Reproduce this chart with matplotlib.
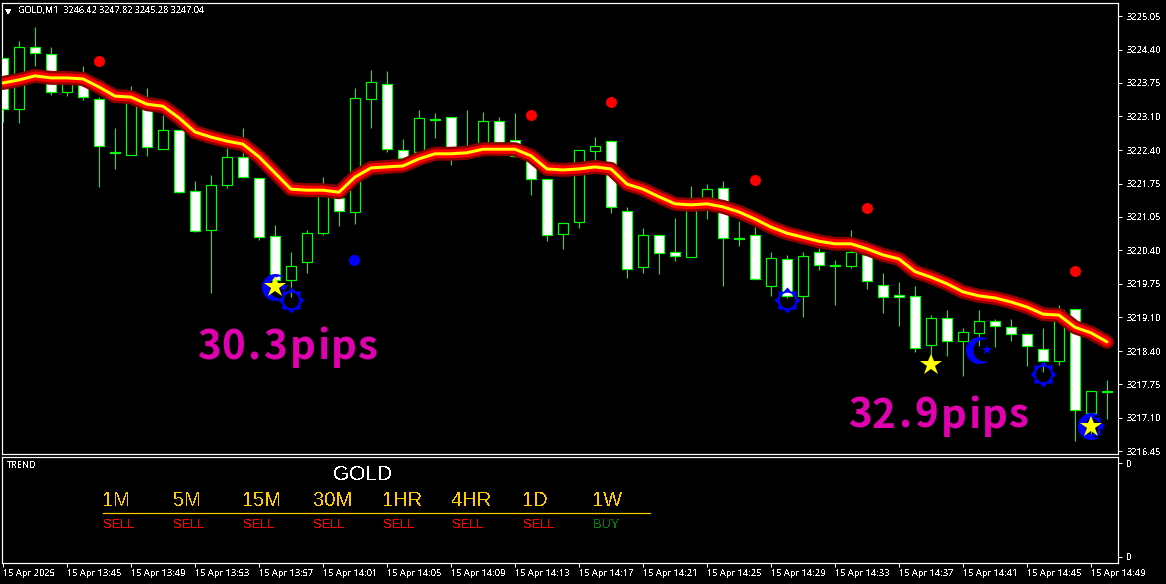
import numpy as np
import matplotlib
matplotlib.use('Agg')
import matplotlib.pyplot as plt
from matplotlib.path import Path

W, H = 1166, 584

# one row per minute bar, 13:41 to 14:50
opens = [3224.22, 3223.22, 3224.44, 3224.30, 3223.55, 3223.69, 3223.41, 3222.36, 3222.31, 3223.23,
	3222.42, 3222.80, 3221.59, 3220.82, 3221.71, 3222.27, 3221.85, 3220.70, 3219.83, 3220.19,
	3220.76, 3221.46, 3221.18, 3223.41, 3223.71, 3222.40, 3222.36, 3223.02, 3223.06, 3222.40,
	3222.50, 3222.98, 3222.60, 3222.31, 3221.83, 3220.74, 3220.98, 3222.38, 3222.58, 3221.20,
	3220.09, 3220.72, 3220.39, 3220.29, 3221.32, 3221.65, 3220.66, 3220.72, 3219.71, 3220.25,
	3219.52, 3220.39, 3220.13, 3220.11, 3220.33, 3219.74, 3219.54, 3219.52, 3218.55, 3219.08,
	3218.63, 3218.79, 3219.02, 3218.90, 3218.77, 3218.47, 3218.23, 3219.26, 3217.21, 3217.64]
highs = [3224.22, 3224.56, 3224.84, 3224.44, 3223.73, 3224.07, 3223.45, 3222.84, 3223.67, 3223.63,
	3223.10, 3222.80, 3221.79, 3221.91, 3222.44, 3222.84, 3221.85, 3220.92, 3220.39, 3220.82,
	3221.87, 3221.52, 3223.63, 3223.99, 3223.97, 3222.62, 3223.20, 3223.14, 3223.06, 3223.20,
	3223.16, 3223.06, 3223.14, 3222.40, 3221.83, 3220.96, 3222.40, 3222.66, 3222.60, 3221.28,
	3220.86, 3220.72, 3221.06, 3221.69, 3221.73, 3221.79, 3221.00, 3220.88, 3220.39, 3220.33,
	3220.39, 3220.47, 3220.23, 3220.82, 3220.43, 3219.97, 3219.79, 3219.71, 3219.14, 3219.24,
	3218.89, 3219.24, 3219.06, 3219.06, 3218.79, 3218.89, 3219.34, 3219.26, 3217.64, 3217.86]
lows = [3222.96, 3222.94, 3224.07, 3223.49, 3223.47, 3223.39, 3221.67, 3222.03, 3222.31, 3222.29,
	3222.42, 3221.55, 3220.78, 3219.58, 3221.65, 3221.85, 3220.62, 3219.77, 3219.50, 3219.97,
	3220.72, 3220.90, 3220.94, 3222.84, 3222.36, 3222.13, 3222.11, 3222.64, 3222.11, 3222.36,
	3222.44, 3222.48, 3222.27, 3221.52, 3220.60, 3220.45, 3220.86, 3222.11, 3221.16, 3219.87,
	3219.97, 3219.95, 3220.21, 3220.29, 3221.04, 3219.71, 3220.51, 3219.85, 3219.52, 3219.48,
	3219.10, 3220.03, 3219.34, 3220.07, 3219.66, 3219.18, 3218.92, 3218.41, 3218.15, 3218.33,
	3217.94, 3218.53, 3218.51, 3218.63, 3218.13, 3218.02, 3218.15, 3216.65, 3216.77, 3217.09]
closes = [3223.22, 3224.44, 3224.32, 3223.55, 3223.73, 3223.45, 3222.48, 3222.35, 3223.35, 3222.46,
	3222.80, 3221.57, 3220.80, 3221.71, 3222.27, 3221.87, 3220.68, 3219.83, 3220.11, 3220.76,
	3221.52, 3221.20, 3223.43, 3223.75, 3222.42, 3222.25, 3223.04, 3223.00, 3222.44, 3222.48,
	3222.98, 3222.56, 3222.29, 3221.83, 3220.72, 3220.96, 3222.40, 3222.48, 3221.28, 3220.05,
	3220.72, 3220.37, 3220.31, 3221.46, 3221.63, 3220.66, 3220.64, 3219.85, 3220.27, 3219.52,
	3220.31, 3220.13, 3220.11, 3220.39, 3219.81, 3219.50, 3219.50, 3218.49, 3219.08, 3218.63,
	3218.80, 3219.02, 3218.92, 3218.77, 3218.53, 3218.23, 3219.24, 3217.26, 3217.64, 3217.62]
ma_line = [3223.73, 3223.79, 3223.87, 3223.83, 3223.83, 3223.81, 3223.65, 3223.47, 3223.45, 3223.31,
	3223.27, 3223.04, 3222.76, 3222.66, 3222.58, 3222.52, 3222.27, 3221.95, 3221.63, 3221.61,
	3221.61, 3221.57, 3221.87, 3222.05, 3222.07, 3222.09, 3222.23, 3222.33, 3222.33, 3222.35,
	3222.42, 3222.42, 3222.42, 3222.29, 3222.03, 3222.01, 3222.03, 3222.07, 3222.03, 3221.73,
	3221.63, 3221.48, 3221.34, 3221.32, 3221.34, 3221.28, 3221.18, 3221.04, 3220.88, 3220.76,
	3220.68, 3220.60, 3220.55, 3220.55, 3220.45, 3220.33, 3220.25, 3220.00, 3219.89, 3219.76,
	3219.60, 3219.52, 3219.48, 3219.40, 3219.30, 3219.16, 3219.14, 3218.90, 3218.79, 3218.61]

red_bar = [5.97, 32.97, 37.97, 46.97, 53.97, 66.97]
red_price = [3224.16, 3223.10, 3223.35, 3221.81, 3221.26, 3220.01]
blue_bar = [21.95]
blue_price = [3220.23]
star_bar = [17, 58, 68]
star_price = [3219.70, 3218.15, 3216.93]
moon_bar = [17, 61, 68]
moon_price = [3219.70, 3218.46, 3216.94]
small_star_bar = [17.5, 61.48, 68.55]
small_star_price = [3219.70, 3218.46, 3216.94]
sun_bar = [18, 49, 65, 68]
sun_price = [3219.44, 3219.44, 3217.97, 3216.94]

price_ticks = [3225.05, 3224.39, 3223.73, 3223.07, 3222.40, 3221.74, 3221.08, 3220.42, 3219.76,
	3219.10, 3218.43, 3217.77, 3217.11, 3216.45]
price_labels = ['3225.05', '3224.40', '3223.75', '3223.10', '3222.40', '3221.75', '3221.05',
	'3220.40', '3219.75', '3219.10', '3218.40', '3217.75', '3217.10', '3216.45']
time_labels = ['15 Apr 2025', '15 Apr 13:45', '15 Apr 13:49', '15 Apr 13:53', '15 Apr 13:57',
	'15 Apr 14:01', '15 Apr 14:05', '15 Apr 14:09', '15 Apr 14:13', '15 Apr 14:17', '15 Apr 14:21',
	'15 Apr 14:25', '15 Apr 14:29', '15 Apr 14:33', '15 Apr 14:37', '15 Apr 14:41', '15 Apr 14:45',
	'15 Apr 14:49']
frames = ['1M', '5M', '15M', '30M', '1HR', '4HR', '1D', '1W']
signals = ['SELL', 'SELL', 'SELL', 'SELL', 'SELL', 'SELL', 'SELL', 'BUY']

def px(n):
	return n * 72.0 / 100

def moon_path():
	a = np.radians(np.linspace(50, 310, 50))
	outer = np.c_[np.cos(a), np.sin(a)]
	b = np.radians(np.linspace(290, 70, 50))
	inner = np.c_[0.365 + 0.815 * np.cos(b), 0.815 * np.sin(b)]
	v = np.vstack([outer, inner, outer[:1]])
	codes = [Path.MOVETO] + [Path.LINETO] * (len(v) - 2) + [Path.CLOSEPOLY]
	return Path(v, codes)

def sun_path():
	a = np.radians(90 + np.arange(16) * 22.5)
	r = np.where(np.arange(16) % 2 == 0, 1.0, 0.74)
	v = np.c_[r * np.cos(a), r * np.sin(a)]
	v = np.vstack([v, v[:1]])
	c = [Path.MOVETO] + [Path.LINETO] * 15 + [Path.CLOSEPOLY]
	b = np.radians(np.linspace(360, 0, 33))
	hv = np.c_[0.6 * np.cos(b), 0.6 * np.sin(b)]
	hc = [Path.MOVETO] + [Path.LINETO] * 31 + [Path.CLOSEPOLY]
	return Path(np.vstack([v, hv]), c + hc)

plt.rcParams['font.family'] = ['Noto Sans', 'DejaVu Sans']
plt.rcParams['text.antialiased'] = False

fig = plt.figure(figsize=(W / 100, H / 100), dpi=100, facecolor='black')
ax = fig.add_axes([2 / W, 1 - 454 / H, 1116 / W, 451 / H], facecolor='black')
sub = fig.add_axes([2 / W, 1 - 563 / H, 1116 / W, 106 / H], facecolor='black')

x = np.arange(len(opens))
for i in x:
	top = max(opens[i], closes[i])
	bot = min(opens[i], closes[i])
	col = 'white' if closes[i] < opens[i] else 'black'
	ax.vlines(i, lows[i], highs[i], color='#00ff00', lw=px(1), zorder=2)
	ax.bar(i, top - bot, bottom=bot, width=0.6, facecolor=col, edgecolor='#00ff00', lw=px(1.2), zorder=3)

ax.plot(x, ma_line, color='#8b0000', lw=px(14), solid_capstyle='round', solid_joinstyle='round', zorder=4)
ax.plot(x, ma_line, color='#ff0000', lw=px(9), solid_capstyle='round', solid_joinstyle='round', zorder=5)
ax.plot(x, ma_line, color='#ffff00', lw=px(3), solid_capstyle='round', solid_joinstyle='round', zorder=6)

ax.plot(red_bar, red_price, 'o', color='#ff0000', ms=px(11), mew=0, zorder=7)
ax.plot(blue_bar, blue_price, 'o', color='#0000ff', ms=px(11), mew=0, zorder=7)
ax.plot(moon_bar, moon_price, ls='none', marker=moon_path(), color='#0000ff', ms=px(27), mew=0, zorder=7)
ax.plot(sun_bar, sun_price, ls='none', marker=sun_path(), color='#0000ff', ms=px(26), mew=0, zorder=7)
ax.plot(small_star_bar, small_star_price, ls='none', marker='*', color='#0000ff', ms=px(11), mew=0, zorder=7)
ax.plot(star_bar, star_price, ls='none', marker='*', color='#ffff00', ms=px(23), mew=0, zorder=8)

# letters spaced out by hand, the font has no tracking option
pips_gap = [0, 24, 50, 66, 93, 120, 134, 161]
def pips(x0, base, s):
	for ch, g in zip(s, pips_gap):
		fig.text((x0 - 2 + g) / W, 1 - base / H, ch, color='#e000b0', fontsize=29, antialiased=True,
			family='Noto Sans CJK JP', weight='bold', va='baseline', ha='left', zorder=9)
pips(199, 359, '30.3pips')
pips(850, 428, '32.9pips')

ax.set_xlim(-1 / 16, 1115 / 16)
ax.set_ylim(3225.37 - 0.01977 * 454, 3225.37 - 0.01977 * 3)
ax.set_xticks([])
ax.yaxis.tick_right()
ax.set_yticks(price_ticks)
ax.set_yticklabels(price_labels)
ax.tick_params(axis='y', colors='white', length=3, width=px(1), labelsize=6.6, pad=3)

sub.set_xlim(-1 / 16, 1115 / 16)
sub.set_ylim(0, 1)
sub.yaxis.tick_right()
sub.set_yticks([0.06, 0.94])
sub.set_yticklabels(['0', '0'])
sub.tick_params(axis='y', colors='white', length=3, width=px(1), labelsize=6.6, pad=3)
sub.set_xticks(np.arange(len(time_labels)) * 4)
sub.set_xticklabels(time_labels, ha='left')
sub.tick_params(axis='x', colors='white', length=3, width=px(1), labelsize=6.6, pad=1)

for a in (ax, sub):
	for s in a.spines.values():
		s.set_color('white')
		s.set_linewidth(px(1.2))

def figtext(xp, yp, s, **kw):
	fig.text(xp / W, 1 - yp / H, s, va='center', ha='left', **kw)

fig.text(5 / W, 1 - 7 / H, '\u25bc', color='white', fontsize=6, va='top', ha='left', family='DejaVu Sans')
figtext(18, 10, 'GOLD,M1  3246.42 3247.82 3245.28 3247.04', color='white', fontsize=6.5)
figtext(7, 465.5, 'TREND', color='white', fontsize=6.6)
figtext(333, 474, 'GOLD', color='white', fontsize=15, family='Liberation Sans')

frame_x = [103, 173, 243, 313, 383, 452, 523, 593]
for xp, f, s in zip(frame_x, frames, signals):
	figtext(xp, 500, f, color='#ffcc00', fontsize=14.5, family='Liberation Sans')
	figtext(xp, 525, s, color='#ff0000' if s == 'SELL' else '#008000', fontsize=9.3, family='Liberation Sans')
fig.add_artist(plt.Line2D([103 / W, 650 / W], [1 - 513 / H, 1 - 513 / H], color='#ffcc00', lw=px(1.2)))

fig.savefig('out.png', dpi=100, facecolor='black')
